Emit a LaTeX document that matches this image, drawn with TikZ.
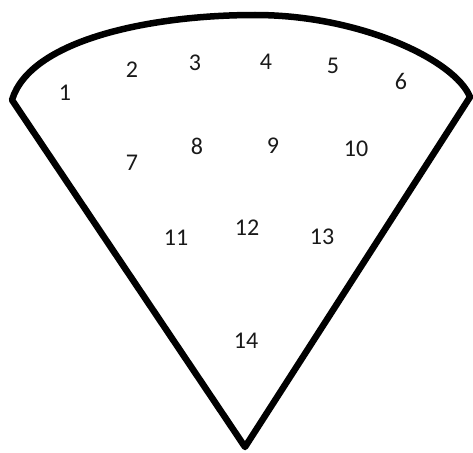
\documentclass[tikz,border=0pt]{standalone}
\usepackage{fontspec}
\setmainfont{Carlito}
\begin{document}
\begin{tikzpicture}[x=1pt,y=-1pt,
  lbl/.style={font=\fontsize{24}{28}\selectfont, text=black!90, inner sep=0pt},
  edge/.style={line width=6.5pt, line join=round, line cap=round}]
\useasboundingbox (0,0) rectangle (473,452);
\coordinate (L) at (12,100);
\coordinate (T) at (255,15);
\coordinate (R) at (470,97);
\coordinate (B) at (245,447);
\draw[edge] (L) .. controls (30,40) and (150,15) .. (T)
  .. controls (360,15) and (455,60) .. (R) -- (B) -- cycle;
\node[lbl] (n1) at (65,93) {1};
\node[lbl] (n2) at (132,70) {2};
\node[lbl] (n3) at (195,63) {3};
\node[lbl] (n4) at (266,62) {4};
\node[lbl] (n5) at (333,66) {5};
\node[lbl] (n6) at (401,81) {6};
\node[lbl] (n7) at (132,163) {7};
\node[lbl] (n8) at (197,146) {8};
\node[lbl] (n9) at (273,146) {9};
\node[lbl] (n10) at (356,149) {10};
\node[lbl] (n11) at (176,238) {11};
\node[lbl] (n12) at (247,228) {12};
\node[lbl] (n13) at (322,237) {13};
\node[lbl] (n14) at (246,341) {14};
\end{tikzpicture}
\end{document}
